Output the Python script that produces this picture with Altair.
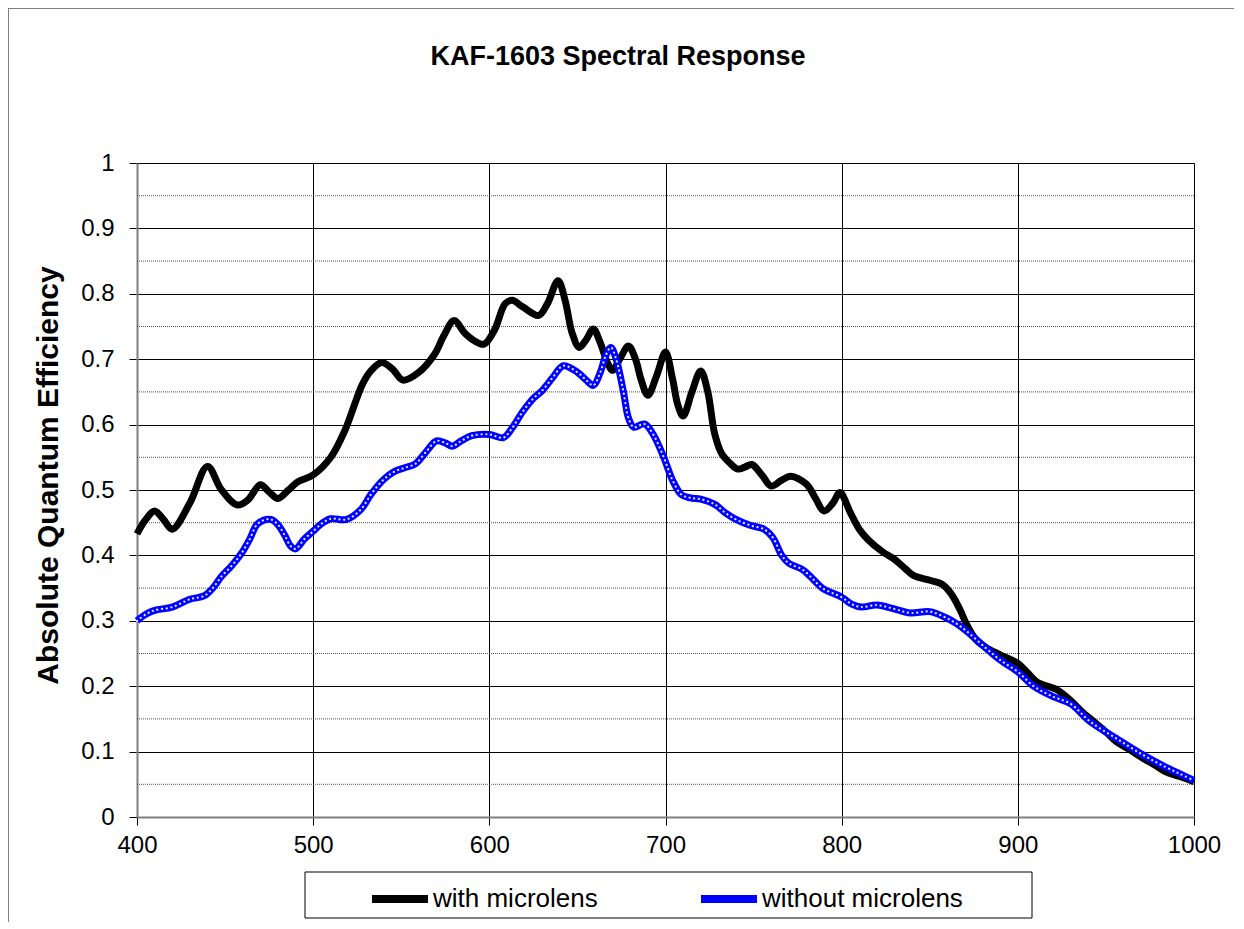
import altair as alt
import pandas as pd

title_text = "KAF-1603 Spectral Response"
y_title = "Absolute Quantum Efficiency"
series_names = ["with microlens", "without microlens"]

with_nm = [400, 405, 410, 415, 420, 430, 440, 448, 457, 463, 470, 475, 480, 486, 491, 500,
           510, 518, 528, 533, 539, 545, 551, 560, 569, 574, 580, 586, 591, 597, 603, 609,
           613, 619, 628, 633, 639, 643, 647, 651, 655, 659, 663, 667, 670, 674, 679, 683,
           686, 690, 695, 700, 704, 707, 710, 715, 720, 724, 728, 732, 737, 741, 745, 749,
           755, 760, 766, 771, 780, 785, 790, 795, 799, 805, 810, 815, 823, 830, 836, 841,
           850, 857, 862, 867, 871, 876, 882, 890, 900, 905, 911, 922, 930, 936, 943, 950,
           956, 964, 971, 978, 984, 992, 1000]
with_qe = [0.433, 0.455, 0.468, 0.455, 0.440, 0.480, 0.536, 0.500, 0.477, 0.485, 0.508, 0.497,
           0.487, 0.500, 0.512, 0.523, 0.550, 0.591, 0.662, 0.683, 0.695, 0.685, 0.668, 0.680,
           0.708, 0.735, 0.759, 0.740, 0.729, 0.723, 0.745, 0.785, 0.790, 0.780, 0.767, 0.785,
           0.820, 0.790, 0.740, 0.718, 0.730, 0.746, 0.725, 0.695, 0.683, 0.700, 0.720, 0.700,
           0.670, 0.645, 0.675, 0.711, 0.670, 0.630, 0.613, 0.650, 0.682, 0.650, 0.585, 0.555,
           0.540, 0.532, 0.535, 0.539, 0.522, 0.506, 0.515, 0.521, 0.509, 0.488, 0.468, 0.480,
           0.496, 0.465, 0.440, 0.424, 0.406, 0.394, 0.380, 0.369, 0.362, 0.356, 0.342, 0.318,
           0.294, 0.272, 0.259, 0.248, 0.235, 0.222, 0.206, 0.195, 0.178, 0.162, 0.146, 0.130,
           0.115, 0.102, 0.090, 0.079, 0.069, 0.062, 0.054]

without_nm = [400, 405, 410, 420, 430, 438, 443, 448, 454, 459, 464, 468, 472, 476, 480, 484,
              487, 490, 495, 500, 505, 510, 519, 527, 533, 540, 546, 552, 558, 564, 570, 575,
              579, 584, 590, 600, 608, 613, 619, 625, 630, 636, 642, 650, 655, 659, 663, 666,
              669, 672, 676, 679, 682, 688, 693, 699, 704, 709, 714, 720, 728, 734, 740, 748,
              756, 761, 766, 770, 778, 784, 789, 800, 806, 811, 820, 830, 839, 850, 859, 865,
              871, 882, 890, 900, 909, 920, 930, 941, 956, 971, 982, 992, 1000]
without_qe = [0.300, 0.310, 0.316, 0.321, 0.333, 0.338, 0.350, 0.368, 0.385, 0.402, 0.425, 0.447,
              0.454, 0.455, 0.447, 0.430, 0.415, 0.410, 0.425, 0.437, 0.449, 0.456, 0.455, 0.470,
              0.494, 0.516, 0.528, 0.534, 0.540, 0.558, 0.575, 0.572, 0.567, 0.575, 0.583, 0.585,
              0.580, 0.595, 0.620, 0.640, 0.652, 0.672, 0.690, 0.680, 0.668, 0.660, 0.680, 0.705,
              0.718, 0.700, 0.652, 0.610, 0.596, 0.601, 0.585, 0.550, 0.515, 0.493, 0.488, 0.486,
              0.478, 0.465, 0.455, 0.446, 0.440, 0.427, 0.400, 0.388, 0.378, 0.363, 0.350, 0.336,
              0.325, 0.321, 0.324, 0.318, 0.312, 0.314, 0.305, 0.296, 0.284, 0.258, 0.240, 0.222,
              0.200, 0.184, 0.173, 0.146, 0.120, 0.095, 0.079, 0.066, 0.056]

x_ticks = [400, 500, 600, 700, 800, 900, 1000]
y_ticks = [0, 0.1, 0.2, 0.3, 0.4, 0.5, 0.6, 0.7, 0.8, 0.9, 1]
y_minor = [0.05, 0.15, 0.25, 0.35, 0.45, 0.55, 0.65, 0.75, 0.85, 0.95]

df = pd.concat([
    pd.DataFrame({"nm": with_nm, "qe": with_qe, "series": series_names[0]}),
    pd.DataFrame({"nm": without_nm, "qe": without_qe, "series": series_names[1]}),
], ignore_index=True)
df_without = df[df["series"] == series_names[1]]
minor_df = pd.DataFrame({"qe": y_minor})
one = pd.DataFrame({"k": [0]})

W, H = 1057, 654
FONT = "Liberation Sans"

x_scale = alt.Scale(domain=[400, 1000], nice=False, zero=False)
y_scale = alt.Scale(domain=[0, 1], nice=False, zero=True)

x_axis = alt.Axis(
    values=x_ticks, format="d", title=None, grid=True, gridColor="#000000", gridWidth=1,
    domainColor="#808080", domainWidth=2, tickColor="#000000", tickSize=8,
    labelFontSize=24, labelFont=FONT, labelColor="#000000", labelPadding=8,
    labelFlush=False)
y_axis = alt.Axis(
    values=y_ticks, format="~g", title=y_title, grid=True, gridColor="#000000", gridWidth=1,
    domainColor="#808080", domainWidth=2, tickColor="#000000", tickSize=8,
    labelFontSize=24, labelFont=FONT, labelColor="#000000", labelPadding=15,
    titleFont=FONT, titleFontSize=30, titleFontWeight="bold", titleColor="#000000",
    titleX=-80, titleY=312, titleAngle=270, titleAlign="center", titleBaseline="alphabetic")

minor = alt.Chart(minor_df).mark_rule(color="#555555", strokeWidth=1, strokeDash=[1, 1]).encode(
    y=alt.Y("qe:Q", scale=y_scale, axis=y_axis)
)

lines = alt.Chart(df).mark_line(strokeWidth=7, interpolate="catmull-rom", strokeJoin="round").encode(
    x=alt.X("nm:Q", scale=x_scale, axis=x_axis),
    y=alt.Y("qe:Q", scale=y_scale, axis=y_axis),
    color=alt.Color("series:N", scale=alt.Scale(domain=series_names, range=["#000000", "#0000ff"]),
                    legend=alt.Legend(title=None, orient="none", legendX=231, legendY=704,
                                      direction="horizontal", symbolType="stroke", symbolSize=3136,
                                      symbolStrokeWidth=8, labelFontSize=26, labelFont=FONT,
                                      labelColor="#000000", columnPadding=87, labelOffset=1,
                                      labelLimit=400, padding=0)),
)

dots = alt.Chart(df_without).mark_line(strokeWidth=2.2, strokeDash=[0.1, 4.6], strokeCap="round",
                                       interpolate="catmull-rom", color="#dfe5ff").encode(
    x=alt.X("nm:Q", scale=x_scale, axis=x_axis),
    y=alt.Y("qe:Q", scale=y_scale, axis=y_axis),
)

legend_box = alt.Chart(one).mark_rect(fill="white", stroke="#000000", strokeWidth=1).encode(
    x=alt.value(168), x2=alt.value(895), y=alt.value(709), y2=alt.value(755)
)
frame_left = alt.Chart(one).mark_rule(color="#808080", strokeWidth=1).encode(
    x=alt.value(-128.5), y=alt.value(-155), y2=alt.value(H + 105)
)
frame_top = alt.Chart(one).mark_rule(color="#808080", strokeWidth=1).encode(
    x=alt.value(-129), x2=alt.value(W + 40), y=alt.value(-154.5)
)

chart = alt.layer(frame_left, frame_top, minor, legend_box, lines, dots).properties(
    width=W, height=H,
    autosize=alt.AutoSizeParams(type="none"),
    padding={"left": 129, "top": 155, "right": 40, "bottom": 105},
    title=alt.Title(title_text, font=FONT, fontSize=27, fontWeight="bold", color="#000000",
                    anchor="middle", frame="bounds", dx=-3, offset=-84, baseline="alphabetic"),
).configure_view(stroke="#808080", strokeWidth=2).configure(background="white")

chart.save("out.html", embed_options={"renderer": "svg", "actions": False})
